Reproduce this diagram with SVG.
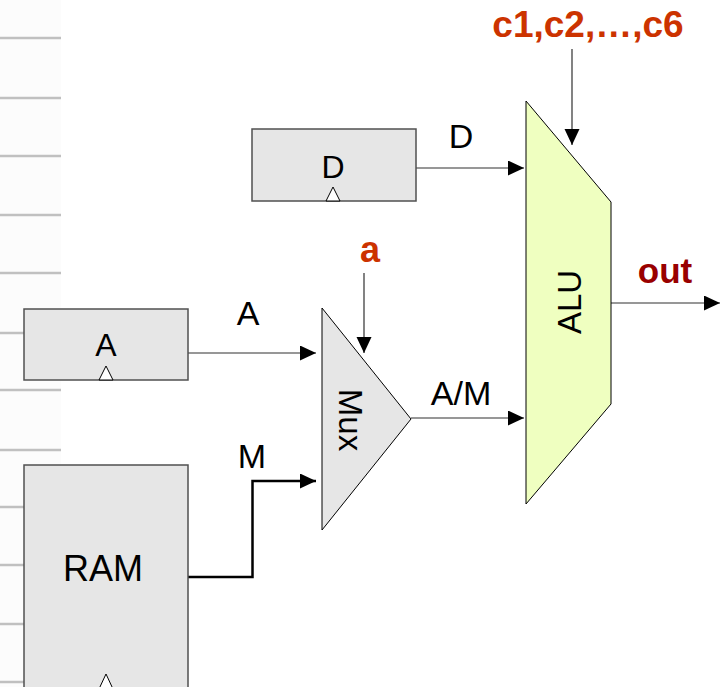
<svg xmlns="http://www.w3.org/2000/svg" width="722" height="687" viewBox="0 0 722 687">
  <style>
    .bg-line { stroke: #c0c0c0; stroke-width: 2.5; fill: none; }
    .reg { fill: #e6e6e6; stroke: #505050; stroke-width: 1.5; }
    .clk { fill: #ffffff; stroke: #000000; stroke-width: 1; }
    .wire { stroke: #303030; stroke-width: 1.2; fill: none; }
    .wire-thick { stroke: #000000; stroke-width: 2.5; fill: none; }
    .lbl { font-family: "Liberation Sans", Arial, sans-serif; fill: #000000; text-anchor: middle; }
    .ctl { font-family: "Liberation Sans", Arial, sans-serif; font-weight: bold; fill: #cc3300; text-anchor: middle; }
  </style>
  <defs>
    <marker id="arrow" markerUnits="userSpaceOnUse" markerWidth="17" markerHeight="16" refX="16" refY="7.5" orient="auto">
      <path d="M0,0 L16,7.5 L0,15 Z" fill="#000000"/>
    </marker>
  </defs>

  <rect x="0" y="0" width="722" height="687" fill="#ffffff"/>
  <rect x="0" y="0" width="61" height="687" fill="#fcfcfc"/>

  <g id="background-lines">
    <line class="bg-line" x1="0" y1="38" x2="61" y2="38"/>
    <line class="bg-line" x1="0" y1="98" x2="61" y2="98"/>
    <line class="bg-line" x1="0" y1="156" x2="61" y2="156"/>
    <line class="bg-line" x1="0" y1="215" x2="61" y2="215"/>
    <line class="bg-line" x1="0" y1="273" x2="61" y2="273"/>
    <line class="bg-line" x1="0" y1="333" x2="61" y2="333"/>
    <line class="bg-line" x1="0" y1="390" x2="61" y2="390"/>
    <line class="bg-line" x1="0" y1="450" x2="61" y2="450"/>
    <line class="bg-line" x1="0" y1="507" x2="61" y2="507"/>
    <line class="bg-line" x1="0" y1="565" x2="61" y2="565"/>
    <line class="bg-line" x1="0" y1="624" x2="61" y2="624"/>
    <line class="bg-line" x1="0" y1="682" x2="61" y2="682"/>
  </g>

  <g id="connectors">
    <line class="wire" x1="416" y1="168" x2="524" y2="168" marker-end="url(#arrow)"/>
    <line class="wire" x1="188" y1="353" x2="316" y2="353" marker-end="url(#arrow)"/>
    <polyline class="wire-thick" points="188,577 252.5,577 252.5,481 316,481" marker-end="url(#arrow)"/>
    <line class="wire" x1="411" y1="418" x2="524" y2="418" marker-end="url(#arrow)"/>
    <line class="wire" x1="364" y1="273" x2="364" y2="353" marker-end="url(#arrow)"/>
    <line class="wire" x1="572" y1="49" x2="572" y2="145" marker-end="url(#arrow)"/>
    <line class="wire" x1="611" y1="303" x2="720" y2="303" marker-end="url(#arrow)"/>
  </g>

  <g id="reg-D">
    <rect class="reg" x="252" y="129" width="164" height="72"/>
    <text class="lbl" x="333" y="178" font-size="32">D</text>
    <polygon class="clk" points="326,201 333,187 340,201"/>
  </g>

  <g id="reg-A">
    <rect class="reg" x="24" y="309" width="164" height="71"/>
    <text class="lbl" x="106" y="356" font-size="32">A</text>
    <polygon class="clk" points="99,380 106,366 113,380"/>
  </g>

  <g id="ram">
    <rect class="reg" x="24" y="465" width="164" height="240"/>
    <text class="lbl" x="103" y="581" font-size="36">RAM</text>
    <polygon class="clk" points="99,689 106,674 113,689"/>
  </g>

  <g id="mux">
    <polygon points="322,308 411,419 322,530" fill="#e6e6e6" stroke="#000000" stroke-width="1"/>
    <text class="lbl" font-size="33" dominant-baseline="central" transform="translate(350,420) rotate(90)">Mux</text>
  </g>

  <g id="alu">
    <polygon points="526,101 611,202 611,404 526,504" fill="#efffc0" stroke="#000000" stroke-width="1"/>
    <text class="lbl" font-size="33" dominant-baseline="central" transform="translate(569,302) rotate(-90)">ALU</text>
  </g>

  <g id="labels">
    <text class="lbl" x="461" y="148" font-size="34">D</text>
    <text class="lbl" x="248" y="325" font-size="34">A</text>
    <text class="lbl" x="252" y="468" font-size="34">M</text>
    <text class="lbl" x="461" y="405" font-size="34">A/M</text>
    <text class="ctl" x="370" y="262" font-size="36">a</text>
    <text class="ctl" x="588" y="37" font-size="37">c1,c2,…,c6</text>
    <text class="ctl" x="665" y="283" font-size="35" style="fill:#990000">out</text>
  </g>
</svg>
